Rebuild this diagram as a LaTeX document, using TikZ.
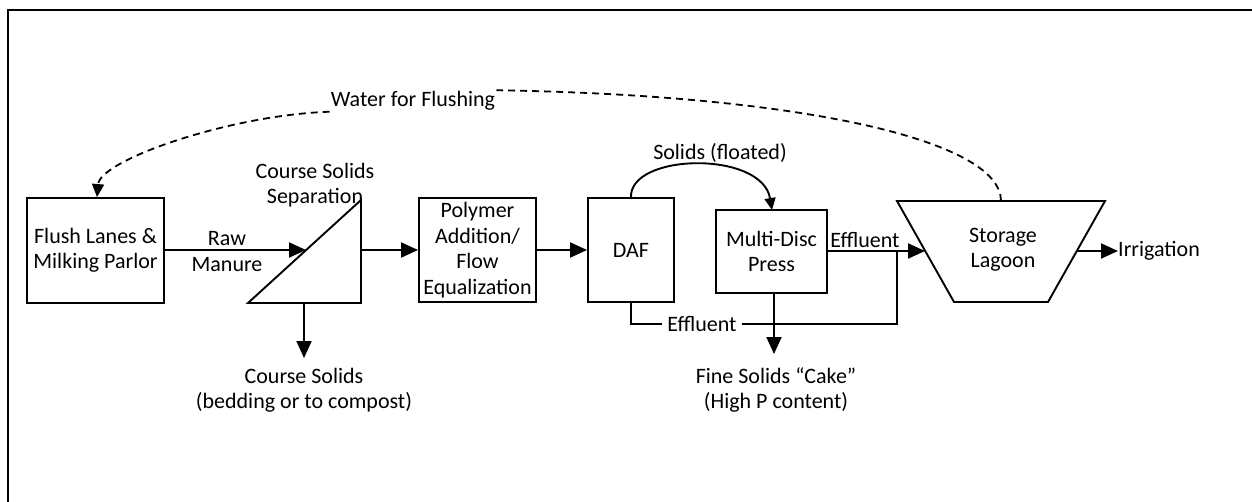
\documentclass[tikz,border=0pt]{standalone}
\usepackage{fontspec}
\setmainfont{Carlito}
\usetikzlibrary{arrows.meta}
\begin{document}
\begin{tikzpicture}[x=1pt,y=-1pt,
  txt/.style={font=\fontsize{22}{25.5}\selectfont, align=center, inner sep=1pt},
  box/.style={txt, draw, line width=1.9pt, inner sep=0pt},
  shape line/.style={line width=1.9pt, line join=miter},
  flow/.style={line width=1.9pt, -{Triangle[length=17pt,width=15pt]}},
  plain/.style={line width=1.9pt},
  recycle/.style={line width=1.8pt, dash pattern=on 7pt off 5pt},
  recyclearrow/.style={recycle, -{Triangle[length=13pt,width=12pt]}}]
\useasboundingbox (0,0) rectangle (1252,502);
% frame
\draw[line width=2.8pt] (8,503) -- (8,10) -- (1253,10);

% boxes
\node[box, minimum width=137pt, minimum height=105pt] (flush) at (95.5,250.5) {Flush Lanes \&\\Milking Parlor};
\node[box, minimum width=117pt, minimum height=104pt] (poly) at (477.5,250) {Polymer\\Addition/\\Flow\\Equalization};
\node[box, minimum width=86pt, minimum height=104pt] (daf) at (631,250) {DAF};
\node[box, minimum width=111pt, minimum height=83pt] (mdp) at (771.5,251.5) {Multi-Disc\\Press};

% separator triangle
\coordinate (tbl) at (248,303);
\coordinate (ttr) at (361,200);
\coordinate (tbr) at (361,303);
\draw[shape line] (tbl) -- (ttr) -- (tbr) -- cycle;
\coordinate (tin) at (306,250);
\coordinate (tout) at (361,250);
\coordinate (tbot) at (304,303);
\node[txt] (seplbl) at (315,185) {Course Solids\\Separation};

% lagoon trapezoid
\coordinate (ltl) at (897,201);
\coordinate (ltr) at (1105,201);
\coordinate (lbr) at (1048,302);
\coordinate (lbl) at (954,302);
\draw[shape line] (ltl) -- (ltr) -- (lbr) -- (lbl) -- cycle;
\node[txt] (lagoon) at (1003,250) {Storage\\Lagoon};
\coordinate (lin) at (925,251);
\coordinate (lout) at (1077,251);
\coordinate (ltop) at (1001,201);

% main flow
\draw[flow] (flush.east |- tin) -- (tin);
\node[txt] (raw) at (227,251.5) {Raw\\Manure};
\draw[flow] (tout) -- (poly.west |- tout);
\draw[flow] (poly.east) -- (daf.west);

% coarse solids out
\node[txt] (cs) at (304,390.5) {Course Solids\\(bedding or to compost)};
\draw[flow] (tbot) -- (304,358);

% solids floated
\coordinate (dtop) at (631,198);
\coordinate (mtop) at (772,210);
\draw[line width=1.9pt, -{Triangle[length=12pt,width=11pt]}] (dtop) .. controls (628,153) and (762,150) .. (mtop);
\node[txt] (floated) at (720,153) {Solids (floated)};

% DAF effluent
\coordinate (djoin) at (897,251);
\draw[plain] (631,302) -- (631,324) -- (897,324) -- (djoin);
\node[txt, fill=white, inner xsep=5pt] (eff1) at (702,324) {Effluent};

% MDP outputs
\draw[flow] (774,293) -- (774,354);
\node[txt] (cake) at (776,390) {Fine Solids “Cake”\\(High P content)};
\draw[flow] (mdp.east |- lin) -- (lin);
\node[txt] (eff2) at (865,240) {Effluent};

% irrigation
\coordinate (irr) at (1118,251);
\draw[flow] (lout) -- (irr);
\node[txt, anchor=west, inner sep=0pt] (irrlbl) at (irr) {Irrigation};

% water for flushing
\node[txt] (water) at (413,101) {Water for Flushing};
\draw[recycle] (ltop) .. controls (1001,140) and (800,95) .. (water.north east);
\draw[recyclearrow] (water.south west) .. controls (230,115) and (100,160) .. (flush.north -| 97,0);
\end{tikzpicture}
\end{document}
